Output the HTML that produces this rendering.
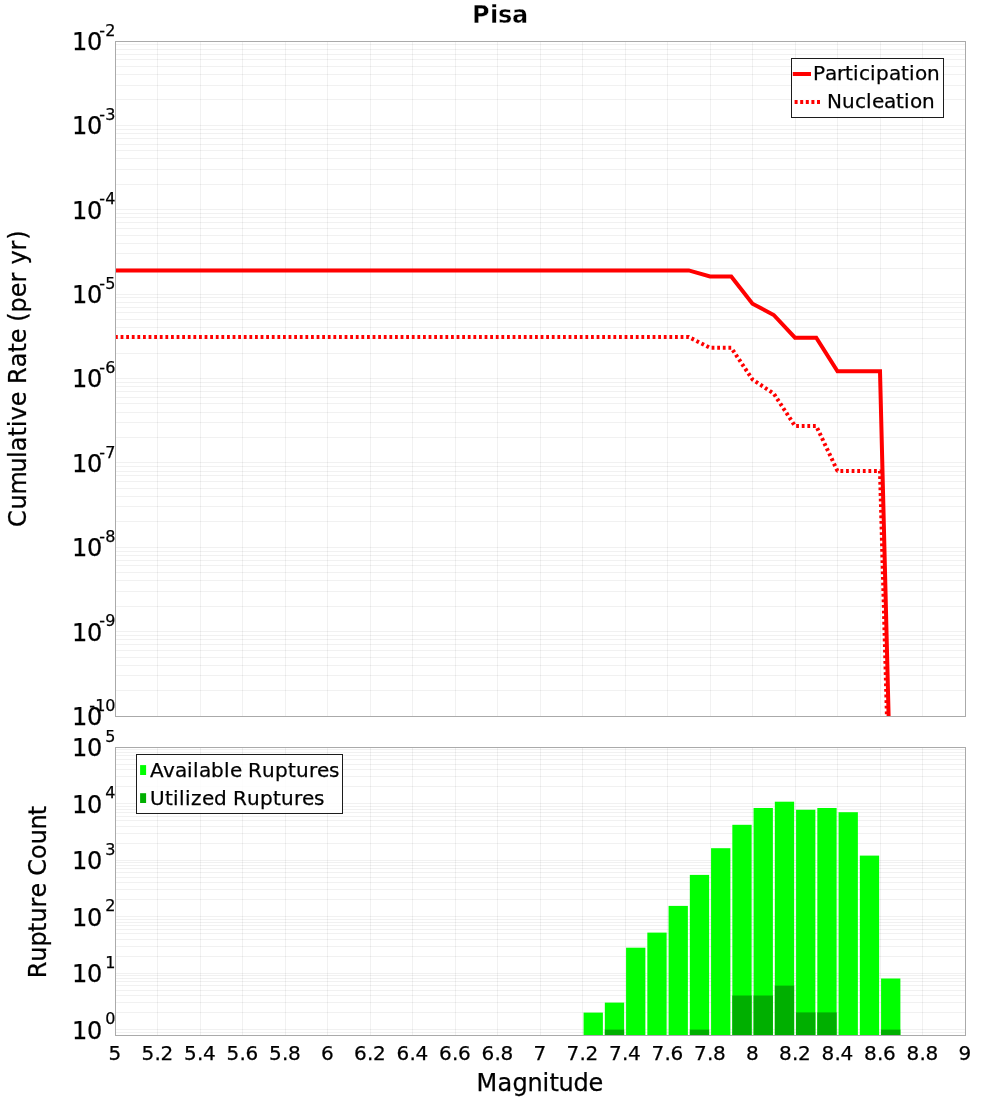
<!DOCTYPE html>
<html lang="en"><head><meta charset="utf-8"><title>Pisa</title>
<style>html,body{margin:0;padding:0;background:#fff}body{width:1000px;height:1100px;overflow:hidden}svg{display:block}text{font-family:"DejaVu Sans", "Liberation Sans", sans-serif;fill:#000;stroke:#000;stroke-width:0.25px;font-kerning:none;font-variant-ligatures:none;white-space:pre}</style></head><body>
<svg width="1000" height="1100" viewBox="0 0 1000 1100">
<rect width="1000" height="1100" fill="#fff"/>
<g shape-rendering="crispEdges" fill="#000" fill-opacity="0.055">
<rect x="157" y="42" width="1" height="674"/>
<rect x="200" y="42" width="1" height="674"/>
<rect x="242" y="42" width="1" height="674"/>
<rect x="285" y="42" width="1" height="674"/>
<rect x="327" y="42" width="1" height="674"/>
<rect x="370" y="42" width="1" height="674"/>
<rect x="412" y="42" width="1" height="674"/>
<rect x="455" y="42" width="1" height="674"/>
<rect x="497" y="42" width="1" height="674"/>
<rect x="540" y="42" width="1" height="674"/>
<rect x="582" y="42" width="1" height="674"/>
<rect x="625" y="42" width="1" height="674"/>
<rect x="667" y="42" width="1" height="674"/>
<rect x="710" y="42" width="1" height="674"/>
<rect x="752" y="42" width="1" height="674"/>
<rect x="795" y="42" width="1" height="674"/>
<rect x="837" y="42" width="1" height="674"/>
<rect x="880" y="42" width="1" height="674"/>
<rect x="922" y="42" width="1" height="674"/>
<rect x="116" y="690" width="849" height="1"/>
<rect x="116" y="675" width="849" height="1"/>
<rect x="116" y="665" width="849" height="1"/>
<rect x="116" y="657" width="849" height="1"/>
<rect x="116" y="650" width="849" height="1"/>
<rect x="116" y="644" width="849" height="1"/>
<rect x="116" y="639" width="849" height="1"/>
<rect x="116" y="635" width="849" height="1"/>
<rect x="116" y="631" width="849" height="1"/>
<rect x="116" y="606" width="849" height="1"/>
<rect x="116" y="591" width="849" height="1"/>
<rect x="116" y="580" width="849" height="1"/>
<rect x="116" y="572" width="849" height="1"/>
<rect x="116" y="565" width="849" height="1"/>
<rect x="116" y="560" width="849" height="1"/>
<rect x="116" y="555" width="849" height="1"/>
<rect x="116" y="551" width="849" height="1"/>
<rect x="116" y="547" width="849" height="1"/>
<rect x="116" y="521" width="849" height="1"/>
<rect x="116" y="506" width="849" height="1"/>
<rect x="116" y="496" width="849" height="1"/>
<rect x="116" y="488" width="849" height="1"/>
<rect x="116" y="481" width="849" height="1"/>
<rect x="116" y="475" width="849" height="1"/>
<rect x="116" y="471" width="849" height="1"/>
<rect x="116" y="466" width="849" height="1"/>
<rect x="116" y="462" width="849" height="1"/>
<rect x="116" y="437" width="849" height="1"/>
<rect x="116" y="422" width="849" height="1"/>
<rect x="116" y="412" width="849" height="1"/>
<rect x="116" y="403" width="849" height="1"/>
<rect x="116" y="397" width="849" height="1"/>
<rect x="116" y="391" width="849" height="1"/>
<rect x="116" y="386" width="849" height="1"/>
<rect x="116" y="382" width="849" height="1"/>
<rect x="116" y="378" width="849" height="1"/>
<rect x="116" y="353" width="849" height="1"/>
<rect x="116" y="338" width="849" height="1"/>
<rect x="116" y="327" width="849" height="1"/>
<rect x="116" y="319" width="849" height="1"/>
<rect x="116" y="312" width="849" height="1"/>
<rect x="116" y="307" width="849" height="1"/>
<rect x="116" y="302" width="849" height="1"/>
<rect x="116" y="297" width="849" height="1"/>
<rect x="116" y="294" width="849" height="1"/>
<rect x="116" y="268" width="849" height="1"/>
<rect x="116" y="253" width="849" height="1"/>
<rect x="116" y="243" width="849" height="1"/>
<rect x="116" y="235" width="849" height="1"/>
<rect x="116" y="228" width="849" height="1"/>
<rect x="116" y="222" width="849" height="1"/>
<rect x="116" y="217" width="849" height="1"/>
<rect x="116" y="213" width="849" height="1"/>
<rect x="116" y="209" width="849" height="1"/>
<rect x="116" y="184" width="849" height="1"/>
<rect x="116" y="169" width="849" height="1"/>
<rect x="116" y="158" width="849" height="1"/>
<rect x="116" y="150" width="849" height="1"/>
<rect x="116" y="144" width="849" height="1"/>
<rect x="116" y="138" width="849" height="1"/>
<rect x="116" y="133" width="849" height="1"/>
<rect x="116" y="129" width="849" height="1"/>
<rect x="116" y="125" width="849" height="1"/>
<rect x="116" y="99" width="849" height="1"/>
<rect x="116" y="85" width="849" height="1"/>
<rect x="116" y="74" width="849" height="1"/>
<rect x="116" y="66" width="849" height="1"/>
<rect x="116" y="59" width="849" height="1"/>
<rect x="116" y="54" width="849" height="1"/>
<rect x="116" y="49" width="849" height="1"/>
<rect x="116" y="44" width="849" height="1"/>
</g>
<g shape-rendering="crispEdges" fill="#000" fill-opacity="0.055">
<rect x="157" y="748" width="1" height="287"/>
<rect x="200" y="748" width="1" height="287"/>
<rect x="242" y="748" width="1" height="287"/>
<rect x="285" y="748" width="1" height="287"/>
<rect x="327" y="748" width="1" height="287"/>
<rect x="370" y="748" width="1" height="287"/>
<rect x="412" y="748" width="1" height="287"/>
<rect x="455" y="748" width="1" height="287"/>
<rect x="497" y="748" width="1" height="287"/>
<rect x="540" y="748" width="1" height="287"/>
<rect x="582" y="748" width="1" height="287"/>
<rect x="625" y="748" width="1" height="287"/>
<rect x="667" y="748" width="1" height="287"/>
<rect x="710" y="748" width="1" height="287"/>
<rect x="752" y="748" width="1" height="287"/>
<rect x="795" y="748" width="1" height="287"/>
<rect x="837" y="748" width="1" height="287"/>
<rect x="880" y="748" width="1" height="287"/>
<rect x="922" y="748" width="1" height="287"/>
<rect x="116" y="1032" width="849" height="1"/>
<rect x="116" y="1029" width="849" height="1"/>
<rect x="116" y="1012" width="849" height="1"/>
<rect x="116" y="1002" width="849" height="1"/>
<rect x="116" y="995" width="849" height="1"/>
<rect x="116" y="990" width="849" height="1"/>
<rect x="116" y="985" width="849" height="1"/>
<rect x="116" y="981" width="849" height="1"/>
<rect x="116" y="978" width="849" height="1"/>
<rect x="116" y="975" width="849" height="1"/>
<rect x="116" y="973" width="849" height="1"/>
<rect x="116" y="956" width="849" height="1"/>
<rect x="116" y="946" width="849" height="1"/>
<rect x="116" y="939" width="849" height="1"/>
<rect x="116" y="933" width="849" height="1"/>
<rect x="116" y="929" width="849" height="1"/>
<rect x="116" y="925" width="849" height="1"/>
<rect x="116" y="922" width="849" height="1"/>
<rect x="116" y="919" width="849" height="1"/>
<rect x="116" y="916" width="849" height="1"/>
<rect x="116" y="899" width="849" height="1"/>
<rect x="116" y="889" width="849" height="1"/>
<rect x="116" y="882" width="849" height="1"/>
<rect x="116" y="877" width="849" height="1"/>
<rect x="116" y="872" width="849" height="1"/>
<rect x="116" y="868" width="849" height="1"/>
<rect x="116" y="865" width="849" height="1"/>
<rect x="116" y="862" width="849" height="1"/>
<rect x="116" y="860" width="849" height="1"/>
<rect x="116" y="843" width="849" height="1"/>
<rect x="116" y="833" width="849" height="1"/>
<rect x="116" y="826" width="849" height="1"/>
<rect x="116" y="820" width="849" height="1"/>
<rect x="116" y="816" width="849" height="1"/>
<rect x="116" y="812" width="849" height="1"/>
<rect x="116" y="809" width="849" height="1"/>
<rect x="116" y="806" width="849" height="1"/>
<rect x="116" y="803" width="849" height="1"/>
<rect x="116" y="786" width="849" height="1"/>
<rect x="116" y="776" width="849" height="1"/>
<rect x="116" y="769" width="849" height="1"/>
<rect x="116" y="764" width="849" height="1"/>
<rect x="116" y="759" width="849" height="1"/>
<rect x="116" y="755" width="849" height="1"/>
<rect x="116" y="752" width="849" height="1"/>
<rect x="116" y="749" width="849" height="1"/>
</g>
<g>
<rect x="583.58" y="1012.60" width="19.3" height="22.40" fill="#00ff00"/>
<rect x="604.83" y="1002.60" width="19.3" height="32.40" fill="#00ff00"/>
<rect x="626.08" y="947.70" width="19.3" height="87.30" fill="#00ff00"/>
<rect x="647.33" y="932.60" width="19.3" height="102.40" fill="#00ff00"/>
<rect x="668.58" y="905.90" width="19.3" height="129.10" fill="#00ff00"/>
<rect x="689.83" y="874.90" width="19.3" height="160.10" fill="#00ff00"/>
<rect x="711.07" y="848.20" width="19.3" height="186.80" fill="#00ff00"/>
<rect x="732.33" y="824.80" width="19.3" height="210.20" fill="#00ff00"/>
<rect x="753.58" y="808.00" width="19.3" height="227.00" fill="#00ff00"/>
<rect x="774.83" y="801.70" width="19.3" height="233.30" fill="#00ff00"/>
<rect x="796.08" y="809.75" width="19.3" height="225.25" fill="#00ff00"/>
<rect x="817.32" y="808.00" width="19.3" height="227.00" fill="#00ff00"/>
<rect x="838.57" y="812.20" width="19.3" height="222.80" fill="#00ff00"/>
<rect x="859.83" y="855.60" width="19.3" height="179.40" fill="#00ff00"/>
<rect x="881.08" y="978.50" width="19.3" height="56.50" fill="#00ff00"/>
<rect x="604.83" y="1029.60" width="19.3" height="5.40" fill="#00af00"/>
<rect x="689.83" y="1029.60" width="19.3" height="5.40" fill="#00af00"/>
<rect x="732.33" y="995.50" width="19.3" height="39.50" fill="#00af00"/>
<rect x="753.58" y="995.50" width="19.3" height="39.50" fill="#00af00"/>
<rect x="774.83" y="985.60" width="19.3" height="49.40" fill="#00af00"/>
<rect x="796.08" y="1012.40" width="19.3" height="22.60" fill="#00af00"/>
<rect x="817.32" y="1012.40" width="19.3" height="22.60" fill="#00af00"/>
<rect x="881.08" y="1029.60" width="19.3" height="5.40" fill="#00af00"/>
</g>
<clipPath id="c1"><rect x="115" y="41" width="851" height="675"/></clipPath>
<g clip-path="url(#c1)" fill="none" stroke="#ff0000" stroke-width="4">
<path d="M115.00 337.00 L688.75 337.00 L710.00 347.80 L731.25 347.80 L752.50 379.50 L773.75 393.60 L795.00 426.00 L816.25 426.00 L837.50 471.00 L858.75 471.00 L880.00 471.00 L901.25 1222.00" stroke-dasharray="2.8 2.8" stroke-linejoin="bevel"/>
<path d="M115.00 270.40 L688.75 270.40 L710.00 276.50 L731.25 276.50 L752.50 303.80 L773.75 315.00 L795.00 337.70 L816.25 337.70 L837.50 371.30 L858.75 371.30 L880.00 371.30 L901.25 1222.00" stroke-linejoin="miter" stroke-linecap="square"/>
</g>
<g shape-rendering="crispEdges" fill="none" stroke="#aaaaaa" stroke-width="1">
<rect x="115.5" y="41.5" width="850" height="675"/>
<rect x="115.5" y="747.5" width="850" height="288"/>
</g>
<text x="472 490 498 512" y="23" font-size="24" font-weight="bold" style="stroke:#fff;stroke-width:0.4px">Pisa</text>
<text x="72 87" y="49.9" font-size="24">10</text>
<text x="99.2 105.2" y="35.7" font-size="16">-2</text>
<text x="72 87" y="134.3" font-size="24">10</text>
<text x="99.2 105.2" y="120.1" font-size="16">-3</text>
<text x="72 87" y="218.7" font-size="24">10</text>
<text x="99.2 105.2" y="204.4" font-size="16">-4</text>
<text x="72 87" y="303.0" font-size="24">10</text>
<text x="99.2 105.2" y="288.8" font-size="16">-5</text>
<text x="72 87" y="387.4" font-size="24">10</text>
<text x="99.2 105.2" y="373.2" font-size="16">-6</text>
<text x="72 87" y="471.8" font-size="24">10</text>
<text x="99.2 105.2" y="457.6" font-size="16">-7</text>
<text x="72 87" y="556.1" font-size="24">10</text>
<text x="99.2 105.2" y="542.0" font-size="16">-8</text>
<text x="72 87" y="640.5" font-size="24">10</text>
<text x="99.2 105.2" y="626.3" font-size="16">-9</text>
<text x="72 87" y="724.9" font-size="24">10</text>
<text x="89.2 95.2 105.2" y="710.7" font-size="16">-10</text>
<text x="72 87" y="1038.5" font-size="24">10</text>
<text x="105.2" y="1024.3" font-size="16">0</text>
<text x="72 87" y="982.0" font-size="24">10</text>
<text x="105.2" y="967.8" font-size="16">1</text>
<text x="72 87" y="925.5" font-size="24">10</text>
<text x="105.2" y="911.3" font-size="16">2</text>
<text x="72 87" y="869.0" font-size="24">10</text>
<text x="105.2" y="854.8" font-size="16">3</text>
<text x="72 87" y="812.5" font-size="24">10</text>
<text x="105.2" y="798.3" font-size="16">4</text>
<text x="72 87" y="756.0" font-size="24">10</text>
<text x="105.2" y="741.8" font-size="16">5</text>
<text x="108.5" y="1060" font-size="20">5</text>
<text x="141.5 154.5 160.5" y="1060" font-size="20">5.2</text>
<text x="184 197 203" y="1060" font-size="20">5.4</text>
<text x="226.5 239.5 245.5" y="1060" font-size="20">5.6</text>
<text x="269 282 288" y="1060" font-size="20">5.8</text>
<text x="321" y="1060" font-size="20">6</text>
<text x="354 367 373" y="1060" font-size="20">6.2</text>
<text x="396.5 409.5 415.5" y="1060" font-size="20">6.4</text>
<text x="439 452 458" y="1060" font-size="20">6.6</text>
<text x="481.5 494.5 500.5" y="1060" font-size="20">6.8</text>
<text x="533.5" y="1060" font-size="20">7</text>
<text x="566.5 579.5 585.5" y="1060" font-size="20">7.2</text>
<text x="609 622 628" y="1060" font-size="20">7.4</text>
<text x="651.5 664.5 670.5" y="1060" font-size="20">7.6</text>
<text x="694 707 713" y="1060" font-size="20">7.8</text>
<text x="746" y="1060" font-size="20">8</text>
<text x="779 792 798" y="1060" font-size="20">8.2</text>
<text x="821.5 834.5 840.5" y="1060" font-size="20">8.4</text>
<text x="864 877 883" y="1060" font-size="20">8.6</text>
<text x="906.5 919.5 925.5" y="1060" font-size="20">8.8</text>
<text x="958.5" y="1060" font-size="20">9</text>
<text x="476.5 497.5 512.5 527.5 542.5 549.5 558.5 573.5 588.5" y="1091" font-size="24">Magnitude</text>
<text transform="translate(26,379.5) rotate(-90)" x="-147.54 -130.09 -114.88 -93 -78.49 -71.82 -57.11 -47.7 -41.03 -26.83 -12.06 -4.44 12.24 26.95 36.36 51.12 57.75 67.12 82.35 97.12 106.98 114.91 129.11 139.68" y="0" font-size="24">Cumulative Rate (per yr)</text>
<text transform="translate(46,890.7) rotate(-90)" x="-87.64 -70.96 -55.75 -41.32 -31.91 -16.7 -6.83 7.94 15.07 31.82 46.51 61.12 75.53" y="0" font-size="24">Rupture Count</text>
<g shape-rendering="crispEdges"><rect x="791.5" y="58.5" width="152" height="59" fill="#fff" fill-opacity="0.85" stroke="#1c1c1c" stroke-width="1.2"/>
<rect x="136.5" y="754.5" width="206" height="59" fill="#fff" fill-opacity="0.85" stroke="#1c1c1c" stroke-width="1.2"/></g>
<path d="M792.8 74 H811" stroke="#ff0000" stroke-width="4" fill="none"/>
<path d="M794.6 102 H820.2" stroke="#ff0000" stroke-width="4" stroke-dasharray="3 2.6" fill="none"/>
<text x="813 825 836.98 844.98 852.98 858.98 869.98 875.98 888.98 900.98 908.98 914.98 926.98" y="80" font-size="20">Participation</text>
<text x="827 842 855 866 872 884 896 904 910 922" y="108" font-size="20">Nucleation</text>
<rect x="140.1" y="765.1" width="6" height="9.9" fill="#00ff00"/>
<rect x="140.1" y="793.2" width="6" height="9.8" fill="#00af00"/>
<text x="150 163 174.98 186.98 192.98 198.98 210.98 223.98 229.98 241.98 247.98 261.98 274.97 287.97 295.97 308.97 316.97 328.97" y="777" font-size="20">Available Ruptures</text>
<text x="150 165 173 179 185 191 202 214 227 233 247 259.98 272.98 280.98 293.98 301.98 313.98" y="805" font-size="20">Utilized Ruptures</text>
</svg></body></html>
